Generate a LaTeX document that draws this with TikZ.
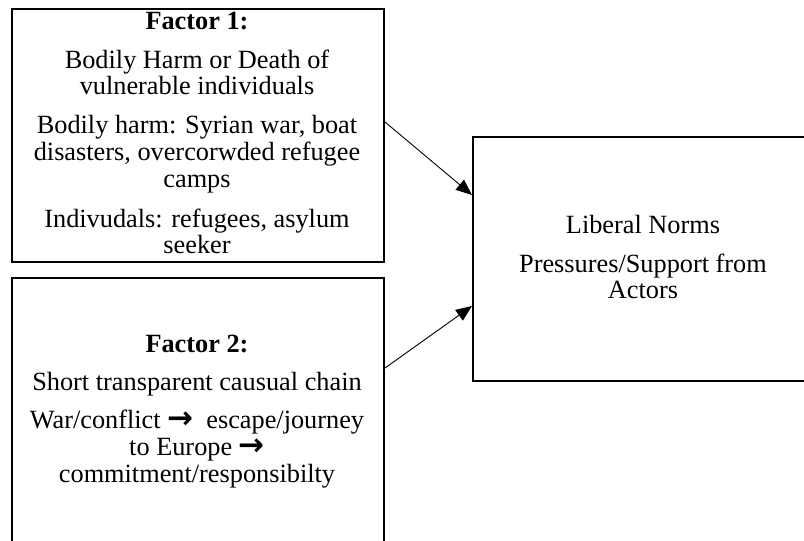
\documentclass[tikz,border=0pt]{standalone}
\usepackage{fontspec}
\setmainfont{Liberation Serif}
\newfontfamily\arrfont{DejaVu Sans}
\newcommand{\rarr}{\smash{\arrfont\bfseries\fontsize{31}{26}\selectfont →}}
\usetikzlibrary{arrows.meta}
\begin{document}
\begin{tikzpicture}[x=1pt,y=-1pt,
  box/.style={draw, line width=2pt, inner sep=0pt, anchor=north west},
  txt/.style={anchor=base, inner sep=0pt, font=\fontsize{26.3}{26.5}\selectfont},
  hd/.style={anchor=base, inner sep=0pt, font=\fontsize{26.3}{26.5}\selectfont\bfseries},
  conn/.style={-{Triangle[length=16pt,width=13pt]}, line width=0.9pt}]
\useasboundingbox (0,0) rectangle (804,541);
\clip (0,0) rectangle (804,541);
\node[box, minimum width=372pt, minimum height=253pt] (f1) at (11,8) {};
\node[box, minimum width=372pt, minimum height=300pt] (f2) at (11,277) {};
\node[box, minimum width=360pt, minimum height=244pt] (lib) at (472,136) {};
% Factor 1 text
\node[hd]  (t11) at (197,29)  {Factor 1:};
\node[txt] (t12) at (197,68)  {Bodily Harm or Death of};
\node[txt] (t13) at (197,94)  {vulnerable individuals};
\node[txt] (t14) at (197,133) {Bodily harm: Syrian war, boat};
\node[txt] (t15) at (197,160) {disasters, overcorwded refugee};
\node[txt] (t16) at (197,187) {camps};
\node[txt] (t17) at (197,227) {Indivudals: refugees, asylum};
\node[txt] (t18) at (197,253) {seeker};
% Factor 2 text
\node[hd]  (t21) at (197,352) {Factor 2:};
\node[txt] (t22) at (197,390) {Short transparent causual chain};
\node[txt] (t23) at (197,428) {War/conflict \rarr\ \ escape/journey};
\node[txt] (t24) at (197,455) {to Europe \rarr};
\node[txt] (t25) at (197,482) {commitment/responsibilty};
% Liberal norms text
\node[txt] (t31) at (643,233) {Liberal Norms};
\node[txt] (t32) at (643,272) {Pressures/Support from};
\node[txt] (t33) at (643,298) {Actors};
% connectors
\draw[conn] (f1.east |- 0,122) -- (lib.west |- 0,195);
\draw[conn] (f2.east |- 0,368) -- (lib.west |- 0,306);
\end{tikzpicture}
\end{document}
